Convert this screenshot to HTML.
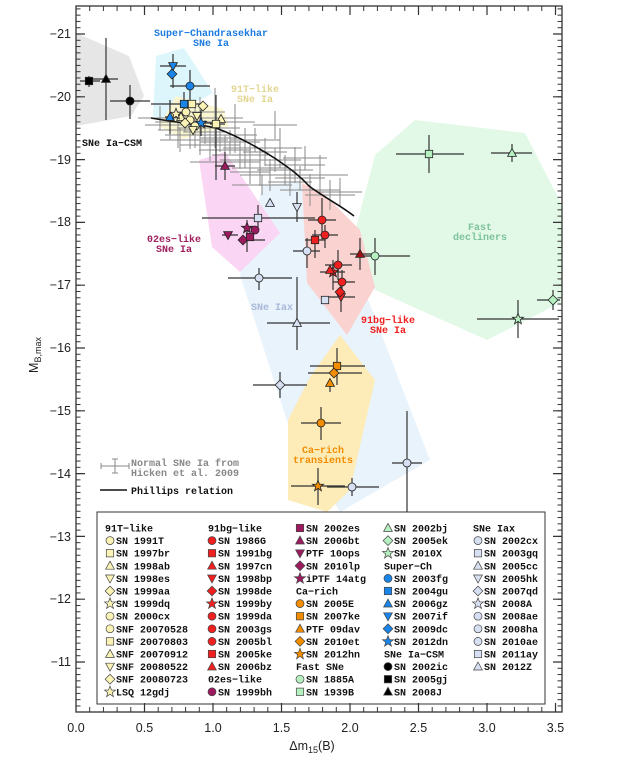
<!DOCTYPE html>
<html><head><meta charset="utf-8"><style>
html,body{margin:0;padding:0;background:#fff;}
svg{display:block;}
.m{font-family:"Liberation Mono",monospace;font-weight:bold;font-size:10px;}
.ax{font-family:"Liberation Sans",sans-serif;font-size:12.5px;fill:#222;}
</style></head><body>
<svg width="621" height="763" viewBox="0 0 621 763" xmlns="http://www.w3.org/2000/svg">
<defs>
<circle id="c" r="4"/>
<rect id="s" x="-3.7" y="-3.7" width="7.4" height="7.4"/>
<polygon id="t" points="0,-4.6 4.4,3.4 -4.4,3.4"/>
<polygon id="v" points="0,4.6 4.4,-3.4 -4.4,-3.4"/>
<polygon id="d" points="0,-4.9 4.9,0 0,4.9 -4.9,0"/>
<polygon id="st" points="0,-5.7 1.5,-1.8 5.5,-1.7 2.3,0.8 3.4,4.8 0,2.4 -3.4,4.8 -2.3,0.8 -5.5,-1.7 -1.5,-1.8"/>
<pattern id="pyL" patternUnits="userSpaceOnUse" x="76" y="33.5" width="10" height="6.28"><rect x="0" y="0" width="4.5" height="1" fill="#333"/></pattern>
<pattern id="pyR" patternUnits="userSpaceOnUse" x="557.5" y="33.5" width="10" height="6.28"><rect x="0" y="0" width="4.5" height="1" fill="#333"/></pattern>
<pattern id="pxB" patternUnits="userSpaceOnUse" x="75.5" y="707" width="13.7" height="10"><rect x="0" y="0" width="1" height="5" fill="#333"/></pattern>
<pattern id="pxT" patternUnits="userSpaceOnUse" x="75.5" y="6" width="13.7" height="10"><rect x="0" y="0" width="1" height="5" fill="#333"/></pattern>
</defs>

<polygon points="76,33 129,56 144,96 131,116 76,126" fill="#e6e6e6"/>
<polygon points="156,56 184,48 213,93 163,119 153,116" fill="#dcf6fb"/>
<polygon points="176,96 223,109 229,126 183,139 159,126" fill="#fbf6d2"/>
<polygon points="375,155 415,120 525,133 562,205 562,302 487,340 375,290 355,232" fill="#e3f9e8"/>
<polygon points="263,185 300,182 345,240 430,460 340,512 290,430 240,275" fill="#e8f3fc"/>
<polygon points="199,160 225,152 280,233 240,272 212,247" fill="#fad6f4"/>
<polygon points="302,183 323,193 360,230 375,287 347,335 307,283" fill="#fad3d0"/>
<polygon points="340,335 375,380 350,490 327,512 288,500 288,420 310,377" fill="#fdecb8"/>

<path fill="none" stroke="#8a8a8a" stroke-width="1" d="
M138 118H182M160 106V130 M145 125H195M170 110V140 M158 130H198M178 112V148 M155 122H215M185 112V132 M165 135H215M190 121V149 M177 128H213M195 108V148 M172 140H228M200 125V155 M183 132H227M205 120V144 M180 145H240M210 129V161 M190 128H240M215 108V148 M200 138H240M220 124V152 M199 150H251M225 135V165 M200 142H260M230 130V154 M213 135H257M235 117V153 M212 155H268M240 141V169 M223 148H267M245 128V168 M220 160H280M250 145V175 M230 140H280M255 128V152 M232 168H288M260 150V186 M243 152H287M265 138V166 M240 175H300M270 159V191 M249 160H301M275 148V172 M258 148H302M280 128V168 M257 170H313M285 155V185 M268 182H312M290 168V196 M265 165H325M295 147V183 M275 178H325M300 166V190 M280 190H340M310 174V206 M292 175H348M320 155V195 M305 195H355M330 180V210 M283 158H327M305 146V170 M230 172H270M250 160V184 M187 118H243M215 88V148 M215 122H255M235 104V140 M253 125H297M275 111V139 M232 185H292M262 175V195 M190 162H260M225 150V174 M318 192H362M340 178V206 M175 112H225M200 97V127 M160 140H200M180 128V152"/>
<path fill="none" stroke="#111" stroke-width="1.6" d="M151 118 C185 124 205 125 216 128 C240 137 262 150 276 159 C292 170 300 176 309 186 C325 198 340 205 354 216"/>

<path fill="none" stroke="#333" stroke-width="1.2" d="
M80 81H100M89 76V87 M89 79H118M106 38V120 M110 101H150M130 85V119
M160 66H186M173 54V88 M170 86H210M190 70V108 M151 104H203M184 92V116 M165 117H179M170 100V134 M190 123H212M201 110V136
M210 124H225M216 95V180 M215 166H235M225 152V180
M202 218H315M258 205V230 M297 192V222 M222 235H238M247 220V252 M240 240H265
M308 220H336M322 198V240 M312 235H338M325 225V248 M305 240H325M315 230V258 M325 265H352M338 250V280 M320 272H345M333 260V290 M333 282H355M342 270V298 M328 297H355M341 285V312 M350 254H372M360 238V270
M360 256H410M375 238V275 M293 251H320M307 238V268 M228 278H292M259 268V290 M267 323H330M297 277V350
M253 385H307M280 372V398 M310 366H365M337 348V385 M308 373H362M330 383V392 M301 423H341M321 407V440 M291 486H345M318 468V505 M327 487H379M352 478V496 M392 463H422M407 411V512
M396 154H464M429 135V173 M491 153H532M512 144V162 M537 300H560M553 290V310 M477 319H559M518 300V338"/>

<g stroke="#222" stroke-width="0.8">
<use href="#s" x="89" y="81" fill="#000"/><use href="#t" x="106" y="79" fill="#000"/><use href="#c" x="130" y="101" fill="#000"/>
<use href="#v" x="173" y="66" fill="#1a85e8"/><use href="#d" x="172" y="74" fill="#1a85e8"/><use href="#c" x="190" y="86" fill="#1a85e8"/>
<use href="#s" x="184" y="104" fill="#1a85e8"/><use href="#t" x="170" y="117" fill="#1a85e8"/><use href="#st" x="201" y="123" fill="#1a85e8"/>
<use href="#s" x="192" y="104" fill="#fbf3b5"/><use href="#d" x="203" y="106" fill="#fbf3b5"/><use href="#c" x="186" y="112" fill="#fbf3b5"/>
<use href="#t" x="181" y="117" fill="#fbf3b5"/><use href="#c" x="190" y="120" fill="#fbf3b5"/><use href="#v" x="197" y="116" fill="#fbf3b5"/>
<use href="#st" x="176" y="114" fill="#fbf3b5"/><use href="#d" x="185" y="123" fill="#fbf3b5"/><use href="#c" x="195" y="126" fill="#fbf3b5"/>
<use href="#t" x="221" y="119" fill="#fbf3b5"/><use href="#s" x="216" y="124" fill="#fbf3b5"/><use href="#v" x="193" y="130" fill="#fbf3b5"/>
<use href="#t" x="225" y="166" fill="#9b1b5e"/>
<use href="#v" x="228" y="235" fill="#9b1b5e"/><use href="#d" x="243" y="240" fill="#9b1b5e"/><use href="#st" x="247" y="228" fill="#9b1b5e"/>
<use href="#c" x="255" y="230" fill="#9b1b5e"/><use href="#s" x="250" y="237" fill="#9b1b5e"/>
<use href="#t" x="270" y="203" fill="#d6e0f2"/><use href="#v" x="297" y="207" fill="#d6e0f2"/><use href="#s" x="258" y="218" fill="#d6e0f2"/>
<use href="#c" x="307" y="251" fill="#d6e0f2"/><use href="#c" x="259" y="278" fill="#d6e0f2"/><use href="#t" x="297" y="323" fill="#d6e0f2"/>
<use href="#s" x="325" y="300" fill="#d6e0f2"/><use href="#d" x="280" y="385" fill="#d6e0f2"/><use href="#c" x="352" y="487" fill="#d6e0f2"/><use href="#c" x="407" y="463" fill="#d6e0f2"/>
<use href="#c" x="322" y="220" fill="#f02020"/><use href="#c" x="325" y="235" fill="#f02020"/><use href="#s" x="315" y="240" fill="#f02020"/>
<use href="#c" x="338" y="265" fill="#f02020"/><use href="#st" x="333" y="272" fill="#f02020"/><use href="#t" x="330" y="270" fill="#f02020"/>
<use href="#c" x="342" y="282" fill="#f02020"/><use href="#v" x="341" y="297" fill="#f02020"/><use href="#d" x="340" y="292" fill="#f02020"/><use href="#t" x="360" y="254" fill="#a01010"/>
<use href="#c" x="375" y="256" fill="#b6f0c0"/><use href="#s" x="429" y="154" fill="#b6f0c0"/><use href="#t" x="512" y="153" fill="#b6f0c0"/>
<use href="#d" x="553" y="300" fill="#b6f0c0"/><use href="#st" x="518" y="319" fill="#b6f0c0"/>
<use href="#s" x="337" y="366" fill="#f28c00"/><use href="#d" x="334" y="373" fill="#f28c00"/><use href="#t" x="330" y="383" fill="#f28c00"/>
<use href="#c" x="321" y="423" fill="#f28c00"/><use href="#st" x="318" y="486" fill="#f28c00"/>
</g>

<g class="m" text-anchor="middle">
<text x="211" y="36" fill="#1e7be0">Super−Chandrasekhar</text><text x="211" y="46" fill="#1e7be0">SNe Ia</text>
<text x="255" y="92" fill="#e3d690">91T−like</text><text x="255" y="102" fill="#e3d690">SNe Ia</text>
<text x="174" y="242" fill="#a0205f">02es−like</text><text x="174" y="252" fill="#a0205f">SNe Ia</text>
<text x="272" y="310" fill="#aab8d8">SNe Iax</text>
<text x="388" y="323" fill="#f02020">91bg−like</text><text x="388" y="333" fill="#f02020">SNe Ia</text>
<text x="323" y="453" fill="#f28c00">Ca−rich</text><text x="323" y="463" fill="#f28c00">transients</text>
<text x="480" y="230" fill="#7cc29a">Fast</text><text x="480" y="240" fill="#7cc29a">decliners</text>
</g>
<text class="m" x="82" y="146" fill="#111">SNe Ia−CSM</text>

<path fill="none" stroke="#888" stroke-width="1" d="M101 466H129M115 459V473M101 463V469M129 463V469M112 459H118M112 473H118"/>
<text class="m" x="131" y="466" fill="#888" font-size="10.5">Normal SNe Ia from</text>
<text class="m" x="131" y="476" fill="#888" font-size="10.5">Hicken et al. 2009</text>
<path d="M100 490H127" stroke="#111" stroke-width="1.5"/>
<text class="m" x="131" y="494" fill="#111" font-size="10.5">Phillips relation</text>

<rect x="97" y="512" width="448" height="192" fill="#fff" stroke="#333" stroke-width="1"/>
<g stroke="#444" stroke-width="0.7">
<use href="#c" x="110" y="540.6" fill="#fbf3b5"/><use href="#s" x="110" y="553.2" fill="#fbf3b5"/><use href="#t" x="110" y="565.8" fill="#fbf3b5"/><use href="#v" x="110" y="578.4" fill="#fbf3b5"/><use href="#d" x="110" y="591" fill="#fbf3b5"/><use href="#st" x="110" y="603.6" fill="#fbf3b5"/><use href="#c" x="110" y="616.2" fill="#fbf3b5"/><use href="#c" x="110" y="628.8" fill="#fbf3b5"/><use href="#s" x="110" y="641.4" fill="#fbf3b5"/><use href="#t" x="110" y="654" fill="#fbf3b5"/><use href="#v" x="110" y="666.6" fill="#fbf3b5"/><use href="#d" x="110" y="679.2" fill="#fbf3b5"/><use href="#st" x="110" y="691.8" fill="#fbf3b5"/>
<use href="#c" x="212" y="540.6" fill="#f02020"/><use href="#s" x="212" y="553.2" fill="#f02020"/><use href="#t" x="212" y="565.8" fill="#f02020"/><use href="#v" x="212" y="578.4" fill="#f02020"/><use href="#d" x="212" y="591" fill="#f02020"/><use href="#st" x="212" y="603.6" fill="#f02020"/><use href="#c" x="212" y="616.2" fill="#f02020"/><use href="#c" x="212" y="628.8" fill="#f02020"/><use href="#c" x="212" y="641.4" fill="#f02020"/><use href="#s" x="212" y="654" fill="#f02020"/><use href="#t" x="212" y="666.6" fill="#f02020"/><use href="#c" x="212" y="691.8" fill="#9b1b5e"/>
<use href="#s" x="300" y="528" fill="#9b1b5e"/><use href="#t" x="300" y="540.6" fill="#9b1b5e"/><use href="#v" x="300" y="553.2" fill="#9b1b5e"/><use href="#d" x="300" y="565.8" fill="#9b1b5e"/><use href="#st" x="300" y="578.4" fill="#9b1b5e"/><use href="#c" x="300" y="603.6" fill="#f28c00"/><use href="#s" x="300" y="616.2" fill="#f28c00"/><use href="#t" x="300" y="628.8" fill="#f28c00"/><use href="#d" x="300" y="641.4" fill="#f28c00"/><use href="#st" x="300" y="654" fill="#f28c00"/><use href="#c" x="300" y="679.2" fill="#b6f0c0"/><use href="#s" x="300" y="691.8" fill="#b6f0c0"/>
<use href="#t" x="388" y="528" fill="#b6f0c0"/><use href="#d" x="388" y="540.6" fill="#b6f0c0"/><use href="#st" x="388" y="553.2" fill="#b6f0c0"/><use href="#c" x="388" y="578.4" fill="#1a85e8"/><use href="#s" x="388" y="591" fill="#1a85e8"/><use href="#t" x="388" y="603.6" fill="#1a85e8"/><use href="#v" x="388" y="616.2" fill="#1a85e8"/><use href="#d" x="388" y="628.8" fill="#1a85e8"/><use href="#st" x="388" y="641.4" fill="#1a85e8"/><use href="#c" x="388" y="666.6" fill="#000"/><use href="#s" x="388" y="679.2" fill="#000"/><use href="#t" x="388" y="691.8" fill="#000"/>
<use href="#c" x="478" y="540.6" fill="#d6e0f2"/><use href="#s" x="478" y="553.2" fill="#d6e0f2"/><use href="#t" x="478" y="565.8" fill="#d6e0f2"/><use href="#v" x="478" y="578.4" fill="#d6e0f2"/><use href="#d" x="478" y="591" fill="#d6e0f2"/><use href="#st" x="478" y="603.6" fill="#d6e0f2"/><use href="#c" x="478" y="616.2" fill="#d6e0f2"/><use href="#c" x="478" y="628.8" fill="#d6e0f2"/><use href="#c" x="478" y="641.4" fill="#d6e0f2"/><use href="#s" x="478" y="654" fill="#d6e0f2"/><use href="#t" x="478" y="666.6" fill="#d6e0f2"/>
</g>
<g class="m" fill="#111">
<text x="105" y="531.5">91T−like</text>
<text x="116" y="544.1">SN 1991T</text><text x="116" y="556.7">SN 1997br</text><text x="116" y="569.3">SN 1998ab</text><text x="116" y="581.9">SN 1998es</text><text x="116" y="594.5">SN 1999aa</text><text x="116" y="607.1">SN 1999dq</text><text x="116" y="619.7">SN 2000cx</text><text x="116" y="632.3">SNF 20070528</text><text x="116" y="644.9">SNF 20070803</text><text x="116" y="657.5">SNF 20070912</text><text x="116" y="670.1">SNF 20080522</text><text x="116" y="682.7">SNF 20080723</text><text x="116" y="695.3">LSQ 12gdj</text>
<text x="208" y="531.5">91bg−like</text>
<text x="218" y="544.1">SN 1986G</text><text x="218" y="556.7">SN 1991bg</text><text x="218" y="569.3">SN 1997cn</text><text x="218" y="581.9">SN 1998bp</text><text x="218" y="594.5">SN 1998de</text><text x="218" y="607.1">SN 1999by</text><text x="218" y="619.7">SN 1999da</text><text x="218" y="632.3">SN 2003gs</text><text x="218" y="644.9">SN 2005bl</text><text x="218" y="657.5">SN 2005ke</text><text x="218" y="670.1">SN 2006bz</text><text x="208" y="682.7">02es−like</text><text x="218" y="695.3">SN 1999bh</text>
<text x="306" y="531.5">SN 2002es</text><text x="306" y="544.1">SN 2006bt</text><text x="306" y="556.7">PTF 10ops</text><text x="306" y="569.3">SN 2010lp</text><text x="306" y="581.9">iPTF 14atg</text><text x="296" y="594.5">Ca−rich</text><text x="306" y="607.1">SN 2005E</text><text x="306" y="619.7">SN 2007ke</text><text x="306" y="632.3">PTF 09dav</text><text x="306" y="644.9">SN 2010et</text><text x="306" y="657.5">SN 2012hn</text><text x="296" y="670.1">Fast SNe</text><text x="306" y="682.7">SN 1885A</text><text x="306" y="695.3">SN 1939B</text>
<text x="394" y="531.5">SN 2002bj</text><text x="394" y="544.1">SN 2005ek</text><text x="394" y="556.7">SN 2010X</text><text x="384" y="569.3">Super−Ch</text><text x="394" y="581.9">SN 2003fg</text><text x="394" y="594.5">SN 2004gu</text><text x="394" y="607.1">SN 2006gz</text><text x="394" y="619.7">SN 2007if</text><text x="394" y="632.3">SN 2009dc</text><text x="394" y="644.9">SN 2012dn</text><text x="384" y="657.5">SNe Ia−CSM</text><text x="394" y="670.1">SN 2002ic</text><text x="394" y="682.7">SN 2005gj</text><text x="394" y="695.3">SN 2008J</text>
<text x="473" y="531.5">SNe Iax</text>
<text x="484" y="544.1">SN 2002cx</text><text x="484" y="556.7">SN 2003gq</text><text x="484" y="569.3">SN 2005cc</text><text x="484" y="581.9">SN 2005hk</text><text x="484" y="594.5">SN 2007qd</text><text x="484" y="607.1">SN 2008A</text><text x="484" y="619.7">SN 2008ae</text><text x="484" y="632.3">SN 2008ha</text><text x="484" y="644.9">SN 2010ae</text><text x="484" y="657.5">SN 2011ay</text><text x="484" y="670.1">SN 2012Z</text>
</g>

<rect x="76" y="6" width="4.5" height="706" fill="url(#pyL)"/>
<rect x="557.5" y="6" width="4.5" height="706" fill="url(#pyR)"/>
<rect x="76" y="707" width="486" height="5" fill="url(#pxB)"/>
<rect x="76" y="6" width="486" height="5" fill="url(#pxT)"/>
<path fill="none" stroke="#333" stroke-width="1.2" d="
M76 34h9M76 96.8h9M76 159.6h9M76 222.4h9M76 285.2h9M76 348h9M76 410.8h9M76 473.6h9M76 536.4h9M76 599.2h9M76 662h9
M562 34h-9M562 96.8h-9M562 159.6h-9M562 222.4h-9M562 285.2h-9M562 348h-9M562 410.8h-9M562 473.6h-9M562 536.4h-9M562 599.2h-9M562 662h-9
M144.5 712v-9M213 712v-9M281.5 712v-9M350 712v-9M418.5 712v-9M487 712v-9M555.5 712v-9
M144.5 6v9M213 6v9M281.5 6v9M350 6v9M418.5 6v9M487 6v9M555.5 6v9"/>
<rect x="76" y="6" width="486" height="706" fill="none" stroke="#333" stroke-width="1.3"/>
<g class="ax" text-anchor="end">
<text x="71" y="38">−21</text><text x="71" y="101">−20</text><text x="71" y="164">−19</text><text x="71" y="226">−18</text><text x="71" y="289">−17</text><text x="71" y="352">−16</text><text x="71" y="415">−15</text><text x="71" y="478">−14</text><text x="71" y="541">−13</text><text x="71" y="603">−12</text><text x="71" y="666">−11</text>
</g>
<g class="ax" text-anchor="middle">
<text x="76" y="732">0.0</text><text x="144.5" y="732">0.5</text><text x="213" y="732">1.0</text><text x="281.5" y="732">1.5</text><text x="350" y="732">2.0</text><text x="418.5" y="732">2.5</text><text x="487" y="732">3.0</text><text x="555.5" y="732">3.5</text>
<text x="312" y="750">Δm<tspan font-size="9" dy="3">15</tspan><tspan dy="-3">(B)</tspan></text>
</g>
<text class="ax" transform="translate(38,355) rotate(-90)" text-anchor="middle">M<tspan font-size="9" dy="3">B,max</tspan></text>
</svg>
</body></html>
